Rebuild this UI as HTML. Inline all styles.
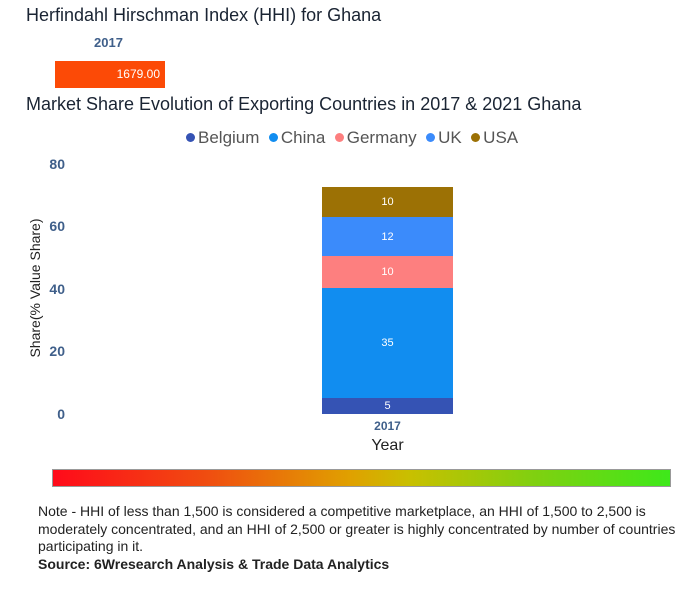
<!DOCTYPE html>
<html><head><meta charset="utf-8"><style>
body{margin:0;width:698px;height:600px;background:#fff;position:relative;overflow:hidden;font-family:"Liberation Sans",sans-serif}
.a{position:absolute;white-space:nowrap}
.t{font-size:18px;color:#1a2433}
.yl{font-size:14px;font-weight:bold;color:#3f5f8a;width:30px;text-align:right;left:35px}
.seg{position:absolute;left:322px;width:131px;color:#fff;font-size:11px;display:flex;align-items:center;justify-content:center}
.note{font-family:"Liberation Sans Narrow","Liberation Sans",sans-serif;font-size:14px;color:#222;left:38px;line-height:17.5px}
.dot{display:inline-block;width:9px;height:9px;border-radius:50%;margin-right:3px;vertical-align:1px}
</style></head><body>
<div class="a t" style="left:26px;top:5px">Herfindahl Hirschman Index (HHI) for Ghana</div>
<div class="a" style="left:94px;top:35px;font-size:13px;font-weight:bold;color:#3f5f8a">2017</div>
<div class="a" style="left:55px;top:61px;width:110px;height:27px;background:#fc4a06;color:#fff;font-size:12px;text-align:right;line-height:27px;box-sizing:border-box;padding-right:5px">1679.00</div>
<div class="a t" style="left:26px;top:94px">Market Share Evolution of Exporting Countries in 2017 &amp; 2021 Ghana</div>
<div class="a" style="left:186px;top:128px;font-size:17px;color:#555">
<span class="dot" style="background:#3553b4"></span>Belgium&nbsp; <span class="dot" style="background:#118df0"></span>China&nbsp; <span class="dot" style="background:#fd7f7f"></span>Germany&nbsp; <span class="dot" style="background:#3b8bfb"></span>UK&nbsp; <span class="dot" style="background:#9c7105"></span>USA</div>
<div class="a yl" style="top:156px">80</div>
<div class="a yl" style="top:218px">60</div>
<div class="a yl" style="top:281px">40</div>
<div class="a yl" style="top:343px">20</div>
<div class="a yl" style="top:406px">0</div>
<div class="a" style="left:-40px;top:280px;font-size:14px;color:#222;transform:rotate(-90deg);transform-origin:center;width:150px;text-align:center">Share(% Value Share)</div>
<div class="seg" style="top:187px;height:30px;background:#9c7105">10</div>
<div class="seg" style="top:217px;height:39px;background:#3b8bfb">12</div>
<div class="seg" style="top:256px;height:32px;background:#fd7f7f">10</div>
<div class="seg" style="top:288px;height:110px;background:#118df0">35</div>
<div class="seg" style="top:398px;height:16px;background:#3553b4">5</div>
<div class="a" style="left:322px;width:131px;text-align:center;top:419px;font-size:12px;font-weight:bold;color:#3f5f8a">2017</div>
<div class="a" style="left:322px;width:131px;text-align:center;top:437px;font-size:16px;color:#222">Year</div>
<div class="a" style="left:52px;top:469px;width:619px;height:18px;background:linear-gradient(to right,#ff0a1a,#f04d10 25%,#e0a000 48%,#c8c000 58%,#80d010 78%,#3ee81a);border:1px solid #999;box-sizing:border-box"></div>
<div class="a note" style="top:503px;white-space:normal;width:650px">Note - HHI of less than 1,500 is considered a competitive marketplace, an HHI of 1,500 to 2,500 is moderately concentrated, and an HHI of 2,500 or greater is highly concentrated by number of countries participating in it.<br><b>Source: 6Wresearch Analysis &amp; Trade Data Analytics</b></div>
</body></html>
